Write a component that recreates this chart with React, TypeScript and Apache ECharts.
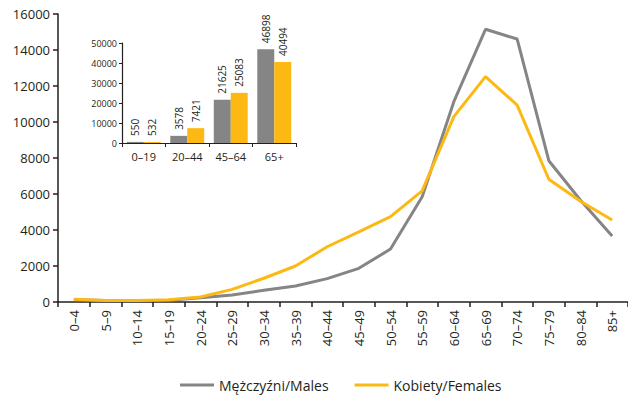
import React, { useEffect, useRef } from "react";
import * as echarts from "echarts";

const ageGroups = ["0–4","5–9","10–14","15–19","20–24","25–29","30–34","35–39","40–44","45–49","50–54","55–59","60–64","65–69","70–74","75–79","80–84","85+"];
const males = [130, 80, 80, 100, 230, 390, 650, 890, 1300, 1870, 2940, 5850, 11130, 15150, 14610, 7850, 5650, 3670];
const females = [150, 90, 90, 120, 280, 700, 1320, 2000, 3070, 3900, 4740, 6170, 10300, 12520, 10940, 6820, 5600, 4560];

const insetGroups = ["0–19", "20–44", "45–64", "65+"];
const insetMales = [550, 3578, 21625, 46898];
const insetFemales = [532, 7421, 25083, 40494];

const mainYTicks = { min: 0, max: 16000, interval: 2000 };
const insetYTicks = { min: 0, max: 50000, interval: 10000 };

const GRAY = "#858585";
const YELLOW = "#FDB913";
const AXIS = "#231f20";
const FONT = "Open Sans";

export default function App() {
  const ref = useRef<HTMLDivElement>(null);
  useEffect(() => {
    if (!ref.current) return;
    const chart = echarts.init(ref.current, null, { renderer: "svg" });
    const barLabel = {
      show: true,
      position: "top",
      rotate: 90,
      align: "left",
      verticalAlign: "middle",
      distance: 6,
      fontSize: 10,
      color: "#231f20",
      fontFamily: FONT,
    };
    const plain = (v: number) => String(v);
    chart.setOption({
      animation: false,
      textStyle: { fontFamily: FONT },
      legend: {
        top: 373,
        left: 175,
        data: ["Mężczyźni/Males", "Kobiety/Females"],
        itemWidth: 34,
        itemHeight: 3,
        itemGap: 26,
        textStyle: { fontSize: 14, color: "#231f20", fontFamily: FONT },
        icon: "rect",
      },
      grid: [
        { left: 58, right: 0, top: 14, bottom: 99 },
        { left: 122, width: 174, top: 43, height: 100 },
      ],
      xAxis: [
        {
          type: "category",
          gridIndex: 0,
          data: ageGroups,
          boundaryGap: true,
          axisLine: { lineStyle: { color: AXIS, width: 1.5 } },
          axisTick: { show: true, length: 5, lineStyle: { color: AXIS, width: 1.5 } },
          axisLabel: { rotate: 90, fontSize: 13, color: "#231f20", fontFamily: FONT, margin: 8 },
        },
        {
          type: "category",
          gridIndex: 1,
          data: insetGroups,
          axisLine: { lineStyle: { color: AXIS, width: 1.2 } },
          axisTick: { show: true, length: 4, lineStyle: { color: AXIS } },
          axisLabel: { fontSize: 11, color: "#231f20", fontFamily: FONT, margin: 8 },
        },
      ],
      yAxis: [
        {
          type: "value",
          gridIndex: 0,
          ...mainYTicks,
          splitLine: { show: false },
          axisLine: { show: true, lineStyle: { color: AXIS, width: 1.5 } },
          axisTick: { show: true, length: 5, lineStyle: { color: AXIS, width: 1.5 } },
          axisLabel: { fontSize: 13, color: "#231f20", fontFamily: FONT, margin: 8, formatter: plain },
        },
        {
          type: "value",
          gridIndex: 1,
          ...insetYTicks,
          splitLine: { show: false },
          axisLine: { show: true, lineStyle: { color: AXIS, width: 1.2 } },
          axisTick: { show: true, length: 3, lineStyle: { color: AXIS } },
          axisLabel: { fontSize: 9, color: "#231f20", fontFamily: FONT, margin: 5, formatter: plain },
        },
      ],
      series: [
        {
          name: "Mężczyźni/Males",
          type: "line",
          xAxisIndex: 0,
          yAxisIndex: 0,
          data: males,
          symbol: "none",
          lineStyle: { color: GRAY, width: 3 },
          itemStyle: { color: GRAY },
          z: 2,
        },
        {
          name: "Kobiety/Females",
          type: "line",
          xAxisIndex: 0,
          yAxisIndex: 0,
          data: females,
          symbol: "none",
          lineStyle: { color: YELLOW, width: 3 },
          itemStyle: { color: YELLOW },
          z: 3,
        },
        {
          name: "Mężczyźni/Males",
          type: "bar",
          xAxisIndex: 1,
          yAxisIndex: 1,
          data: insetMales,
          barGap: "0%",
          barCategoryGap: "22%",
          itemStyle: { color: GRAY },
          label: barLabel,
          z: 5,
        },
        {
          name: "Kobiety/Females",
          type: "bar",
          xAxisIndex: 1,
          yAxisIndex: 1,
          data: insetFemales,
          barGap: "0%",
          barCategoryGap: "22%",
          itemStyle: { color: YELLOW },
          label: barLabel,
          z: 5,
        },
      ],
    });
    return () => chart.dispose();
  }, []);
  return <div ref={ref} style={{ width: 628, height: 401, position: "absolute", left: 0, top: 0 }} />;
}
